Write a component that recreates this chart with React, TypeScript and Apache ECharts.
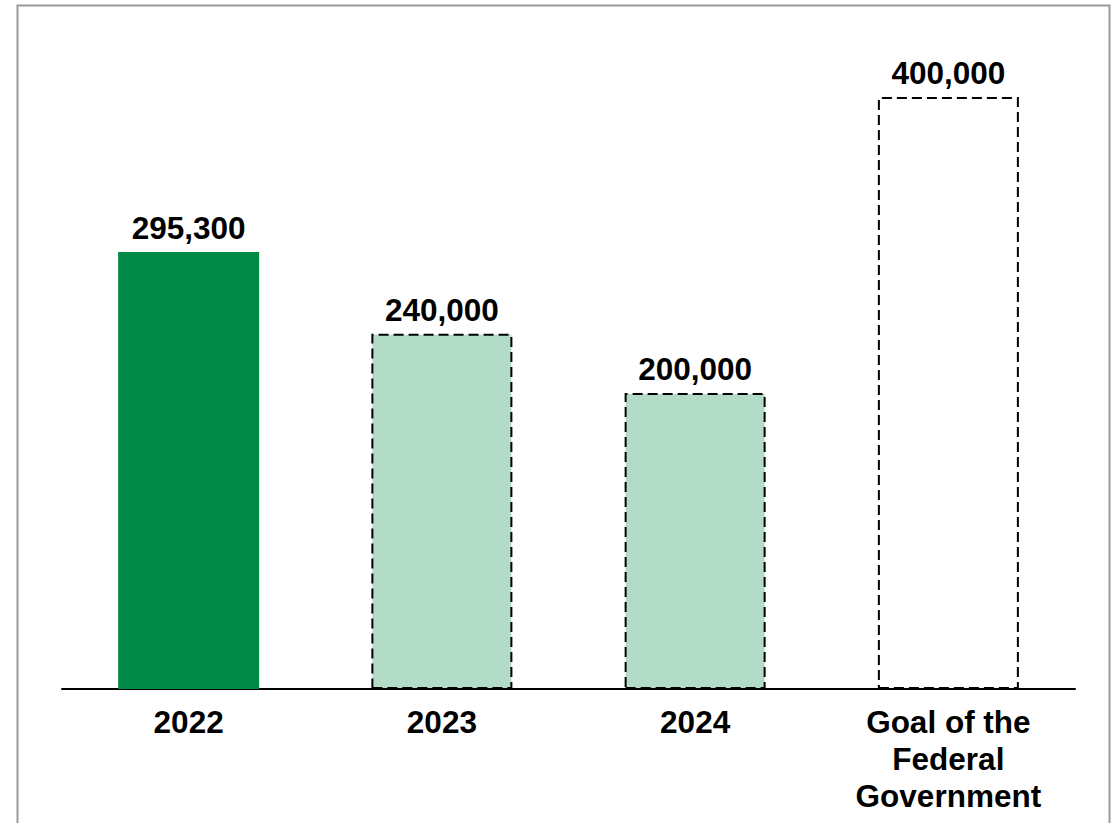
import React, { useEffect, useRef } from "react";
import * as echarts from "echarts";

const categories = ["2022", "2023", "2024", "Goal of the\nFederal\nGovernment"];
const values = [295300, 240000, 200000, 400000];
const fills = ["#008a47", "#b2dcc8", "#b2dcc8", "#ffffff"];
const dashed = [false, true, true, true];

const FONT = "'Liberation Sans', Arial, sans-serif";

export default function App() {
  const ref = useRef<HTMLDivElement>(null);
  useEffect(() => {
    const chart = echarts.init(ref.current!, null, { renderer: "svg" });
    chart.setOption({
      animation: false,
      backgroundColor: "#ffffff",
      grid: { left: 62, right: 42, top: 23, bottom: 823 - 689 },
      graphic: [
        {
          type: "rect",
          shape: { x: 17.5, y: 5.5, width: 1092, height: 840 },
          style: { fill: "none", stroke: "#999999", lineWidth: 2 },
          silent: true,
        },
      ],
      xAxis: {
        type: "category",
        data: categories,
        axisLine: { lineStyle: { color: "#000000", width: 2 } },
        axisTick: { show: false },
        axisLabel: {
          color: "#000000",
          fontFamily: FONT,
          fontWeight: "bold",
          fontSize: 31.5,
          lineHeight: 37,
          margin: 14,
          interval: 0,
        },
      },
      yAxis: {
        type: "value",
        min: 0,
        max: 450000,
        show: false,
        splitLine: { show: false },
      },
      series: [
        {
          type: "bar",
          barWidth: 141,
          data: values.map((v, i) => ({
            value: v,
            itemStyle: {
              color: fills[i],
              borderColor: dashed[i] ? "#000000" : fills[i],
              borderWidth: dashed[i] ? 2 : 0,
              borderType: dashed[i] ? [10, 5] : "solid",
            },
          })),
          label: {
            show: true,
            position: "top",
            distance: 8,
            color: "#000000",
            fontFamily: FONT,
            fontWeight: "bold",
            fontSize: 31.5,
            formatter: (p: any) => Number(p.value).toLocaleString("en-US"),
          },
        },
      ],
    });
    return () => chart.dispose();
  }, []);
  return (
    <div
      ref={ref}
      style={{ position: "fixed", left: 0, top: 0, width: 1117, height: 823, background: "#fff" }}
    />
  );
}
